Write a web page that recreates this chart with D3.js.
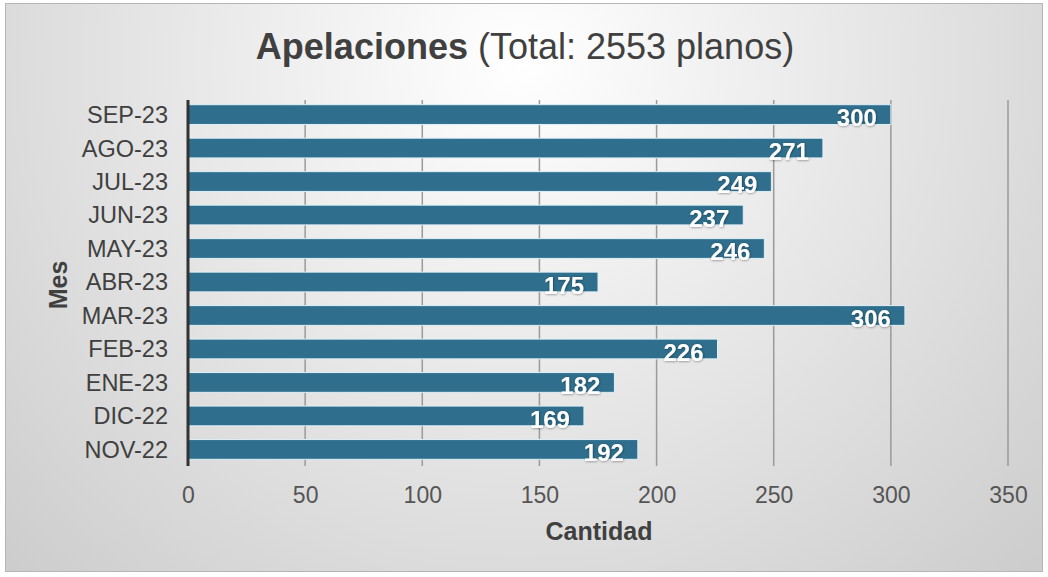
<!DOCTYPE html>
<html><head><meta charset="utf-8">
<script src="https://cdn.jsdelivr.net/npm/d3@7"></script>
<style>body{margin:0;background:#fff}svg{display:block}</style>
</head><body>
<script>
const categories = ["SEP-23","AGO-23","JUL-23","JUN-23","MAY-23","ABR-23","MAR-23","FEB-23","ENE-23","DIC-22","NOV-22"];
const values = [300,271,249,237,246,175,306,226,182,169,192];
const xTicks = [0,50,100,150,200,250,300,350];
const titleBold = "Apelaciones";
const titleRest = " (Total: 2553 planos)";
const xTitle = "Cantidad";
const yTitle = "Mes";

const FONT = "'Liberation Sans', Arial, sans-serif";
const W = 1048, H = 577;
const svg = d3.select("body").append("svg").attr("width", W).attr("height", H);
const defs = svg.append("defs");
const rg = defs.append("radialGradient").attr("id","bg").attr("gradientUnits","userSpaceOnUse")
  .attr("cx",520).attr("cy",60).attr("r",720);
rg.append("stop").attr("offset","0%").attr("stop-color","#ffffff");
rg.append("stop").attr("offset","100%").attr("stop-color","#cdcdcd");
const f = defs.append("filter").attr("id","sh").attr("x","-20%").attr("y","-20%").attr("width","140%").attr("height","140%");
f.append("feDropShadow").attr("dx",0.5).attr("dy",0.5).attr("stdDeviation",0.8).attr("flood-color","#000").attr("flood-opacity",0.45);

svg.append("rect").attr("x",5.5).attr("y",3.5).attr("width",1037).attr("height",568)
  .attr("fill","url(#bg)").attr("stroke","#b5b5b5").attr("stroke-width",1);

const x = d3.scaleLinear().domain([0,350]).range([188,1008]);
const y = d3.scaleBand().domain(categories).range([98,466]).paddingInner(0.41).paddingOuter(0.2);

// gridlines
svg.append("g").selectAll("line").data(xTicks.filter(d=>d>0)).join("line")
  .attr("x1",d=>x(d)).attr("x2",d=>x(d)).attr("y1",100).attr("y2",466)
  .attr("stroke","#9a9a9a").attr("stroke-width",1.5);

// bars
svg.append("g").selectAll("rect").data(values).join("rect")
  .attr("x",x(0)).attr("y",(d,i)=>y(categories[i]))
  .attr("width",d=>x(d)-x(0)).attr("height",y.bandwidth())
  .attr("fill","#2f6f8d").attr("stroke","#dff0f7").attr("stroke-width",1);

// value labels
svg.append("g").selectAll("text").data(values).join("text")
  .attr("x",d=>x(d)-14).attr("y",(d,i)=>y(categories[i])+y.bandwidth()+2)
  .attr("text-anchor","end").attr("font-family",FONT)
  .attr("font-weight","bold").attr("font-size",24).attr("fill","#ffffff")
  .attr("filter","url(#sh)").text(d=>d);

// y axis
const yAxis = d3.axisLeft(y).tickSize(0).tickPadding(20);
const ga = svg.append("g").attr("transform",`translate(${x(0)},0)`).call(yAxis);
ga.select(".domain").remove();
ga.selectAll("text").attr("font-family",FONT).attr("font-size",23.5).attr("fill","#404040").attr("dy","0.36em");
svg.append("line").attr("x1",x(0)).attr("x2",x(0)).attr("y1",100).attr("y2",466).attr("stroke","#333").attr("stroke-width",3);

// x axis
const xAxis = d3.axisBottom(x).tickValues(xTicks).tickSize(0).tickPadding(0);
const gx = svg.append("g").attr("transform","translate(0,503)").call(xAxis);
gx.select(".domain").remove();
gx.selectAll("text").attr("font-family",FONT).attr("font-size",23).attr("fill","#555").attr("dy","0");

// axis titles
svg.append("text").attr("x",599).attr("y",540).attr("text-anchor","middle")
  .attr("font-family",FONT).attr("font-weight","bold").attr("font-size",25).attr("fill","#404040").text(xTitle);
svg.append("text").attr("transform","translate(67,285) rotate(-90)").attr("text-anchor","middle")
  .attr("font-family",FONT).attr("font-weight","bold").attr("font-size",25).attr("fill","#404040").text(yTitle);

// title
const t = svg.append("text").attr("x",525).attr("y",59).attr("text-anchor","middle")
  .attr("font-family",FONT).attr("font-size",36).attr("fill","#404040");
t.append("tspan").attr("font-weight","bold").text(titleBold);
t.append("tspan").text(titleRest);
</script>
</body></html>
